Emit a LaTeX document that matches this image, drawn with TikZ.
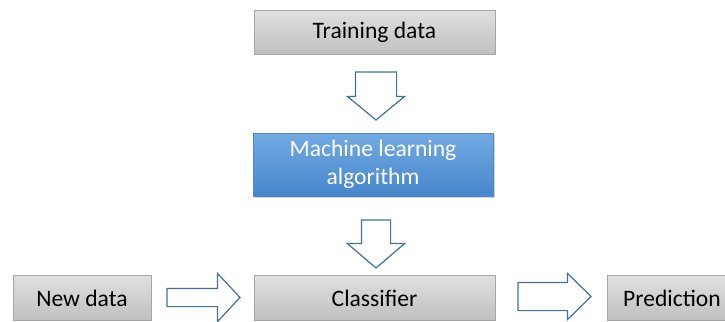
\documentclass[tikz,border=0pt]{standalone}
\usepackage{fontspec}
\setmainfont{Carlito}
\usetikzlibrary{shapes.arrows, positioning, calc, shadows}
\definecolor{graytop}{RGB}{224,224,224}
\definecolor{graybottom}{RGB}{192,192,192}
\definecolor{grayline}{RGB}{166,166,166}
\definecolor{bluetop}{RGB}{114,170,226}
\definecolor{bluebottom}{RGB}{70,134,204}
\definecolor{blueline}{RGB}{86,134,192}
\definecolor{arrowline}{RGB}{65,113,156}

\begin{document}
\begin{tikzpicture}[x=0.5pt, y=-0.5pt,
    databox/.style={draw=grayline, top color=graytop, bottom color=graybottom,
        text=black, inner sep=0pt, minimum height=22.5pt,
        font=\fontsize{11.8}{14.2}\selectfont},
    algobox/.style={draw=blueline, top color=bluetop, bottom color=bluebottom,
        text=white, inner sep=0pt, align=center,
        drop shadow={shadow xshift=1pt, shadow yshift=-1pt, opacity=0.35},
        font=\fontsize{11.8}{14.2}\selectfont},
    blockarrow/.style={shape=single arrow, draw=arrowline, fill=white,
        line width=0.6pt, inner sep=0pt, single arrow head indent=0pt,
        anchor=tail}]
    % Page frame
    \useasboundingbox (0,0) rectangle (725,322);

    % Training data (top)
    \node[databox, minimum width=120.5pt, minimum height=22pt] (train) at (374.5,32) {Training data};

    % Machine learning algorithm
    \node[algobox, minimum width=120pt, minimum height=31.5pt] (algo) at (373,164.5) {Machine learning\\algorithm};

    % Bottom row
    \node[databox, minimum width=120.5pt] (clf) at (374.5,298) {Classifier};
    \node[databox, minimum width=69pt] (newdata) at (82,298) {New data};
    \node[databox, minimum width=65pt] (pred) at (672,298) {Prediction};

    % Block arrows between the boxes (placed by their tails)
    \node[blockarrow, rotate=-90, minimum height=24pt, inner ysep=10pt,
        single arrow head extend=4pt, single arrow tip angle=101]
        (toalgo) at ($(train.south)+(0.75pt,-8.5pt)$) {};
    \node[blockarrow, rotate=-90, minimum height=24pt, inner ysep=7pt,
        single arrow head extend=7pt, single arrow tip angle=99]
        (toclf) at ($(algo.south)+(1.5pt,-11.5pt)$) {};
    \node[blockarrow, minimum height=36.5pt, inner ysep=4.25pt,
        single arrow head extend=7.5pt, single arrow tip angle=94]
        (fromnew) at ($(newdata.east)+(7.5pt,0.25pt)$) {};
    \node[blockarrow, minimum height=36.5pt, inner ysep=6.75pt,
        single arrow head extend=4.5pt, single arrow tip angle=89]
        (topred) at ($(clf.east)+(11pt,0.75pt)$) {};
\end{tikzpicture}
\end{document}
